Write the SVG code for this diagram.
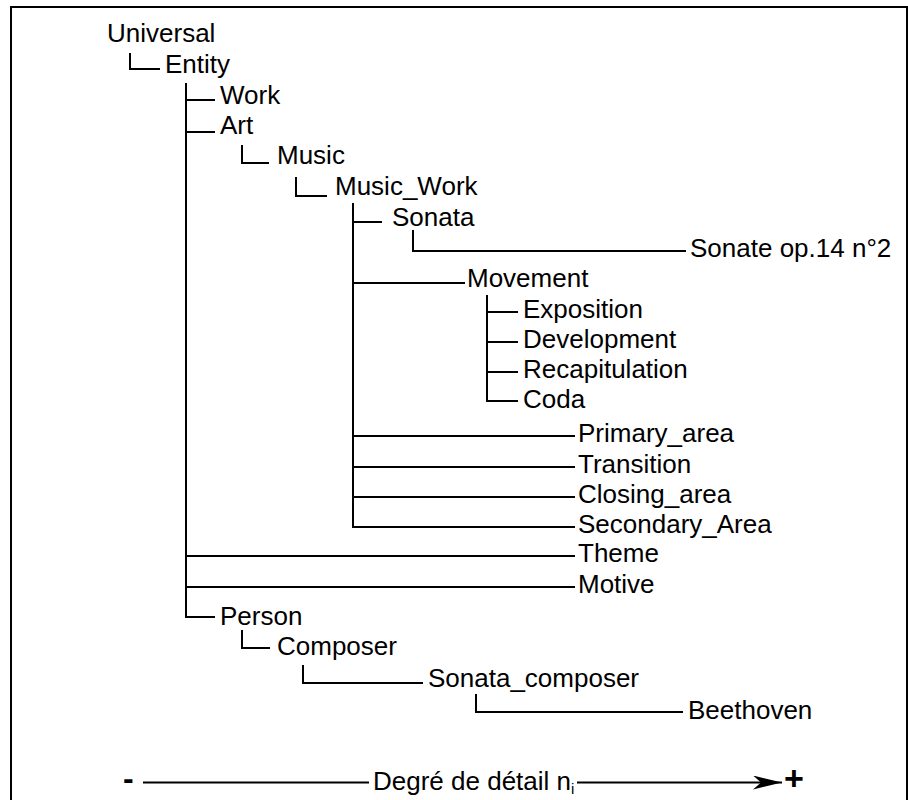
<svg xmlns="http://www.w3.org/2000/svg" width="908" height="800" viewBox="0 0 908 800">
  <style>
    .t { font-family: "Liberation Sans", Arial, sans-serif; font-size: 26px; fill: #000; }
    .c path { fill: none; stroke: #000; stroke-width: 2; }
  </style>
  <defs>
    <marker id="arr" markerWidth="30" markerHeight="14" refX="29" refY="7" orient="auto" markerUnits="userSpaceOnUse">
      <path d="M0,0 L29,7 L0,14 L8,7 Z" fill="#000"/>
    </marker>
  </defs>
  <rect x="0" y="0" width="908" height="800" fill="#fff"/>
  <path d="M11,820 V7 H907 V820" fill="none" stroke="#000" stroke-width="2"/>

  <g class="c" id="connectors">
    <path d="M130,53 V69 H160"/>
    <path d="M186,83 V617 H215"/>
    <path d="M186,100 H215"/>
    <path d="M186,132 H215"/>
    <path d="M242,145 V163 H269"/>
    <path d="M296,177 V196 H327"/>
    <path d="M353,203 V527 H575"/>
    <path d="M353,222 H382"/>
    <path d="M413,230 V251 H686"/>
    <path d="M353,283 H465"/>
    <path d="M487,295 V401 H518"/>
    <path d="M487,312 H518"/>
    <path d="M487,342 H518"/>
    <path d="M487,372 H518"/>
    <path d="M353,436 H575"/>
    <path d="M353,467 H575"/>
    <path d="M353,497 H575"/>
    <path d="M186,556 H575"/>
    <path d="M186,587 H575"/>
    <path d="M242,630 V648 H270"/>
    <path d="M303,665 V683 H423"/>
    <path d="M476,694 V712 H683"/>
  </g>

  <g id="n-universal"><text class="t" x="107" y="42">Universal</text></g>
  <g id="n-entity"><text class="t" x="165" y="73">Entity</text></g>
  <g id="n-work"><text class="t" x="220" y="104">Work</text></g>
  <g id="n-art"><text class="t" x="220" y="134">Art</text></g>
  <g id="n-music"><text class="t" x="277" y="164">Music</text></g>
  <g id="n-music-work"><text class="t" x="335" y="195">Music_Work</text></g>
  <g id="n-sonata"><text class="t" x="392" y="226">Sonata</text></g>
  <g id="n-sonate-op14"><text class="t" x="690" y="257">Sonate op.14 n°2</text></g>
  <g id="n-movement"><text class="t" x="467" y="287">Movement</text></g>
  <g id="n-exposition"><text class="t" x="523" y="318">Exposition</text></g>
  <g id="n-development"><text class="t" x="523" y="348">Development</text></g>
  <g id="n-recapitulation"><text class="t" x="523" y="378">Recapitulation</text></g>
  <g id="n-coda"><text class="t" x="523" y="408">Coda</text></g>
  <g id="n-primary-area"><text class="t" x="578" y="442">Primary_area</text></g>
  <g id="n-transition"><text class="t" x="578" y="473">Transition</text></g>
  <g id="n-closing-area"><text class="t" x="578" y="503">Closing_area</text></g>
  <g id="n-secondary-area"><text class="t" x="578" y="533">Secondary_Area</text></g>
  <g id="n-theme"><text class="t" x="578" y="562">Theme</text></g>
  <g id="n-motive"><text class="t" x="578" y="593">Motive</text></g>
  <g id="n-person"><text class="t" x="220" y="625">Person</text></g>
  <g id="n-composer"><text class="t" x="277" y="655">Composer</text></g>
  <g id="n-sonata-composer"><text class="t" x="428" y="687">Sonata_composer</text></g>
  <g id="n-beethoven"><text class="t" x="688" y="719">Beethoven</text></g>

  <g id="axis">
    <text class="t" x="123" y="789" style="font-size:32px;font-weight:bold">-</text>
    <path d="M143,782.5 H369" stroke="#000" stroke-width="2" fill="none"/>
    <text class="t" x="373" y="790">Degré de détail n<tspan style="font-size:15px" dy="4">i</tspan></text>
    <path d="M577,782.5 H782" stroke="#000" stroke-width="2" fill="none" marker-end="url(#arr)"/>
    <text class="t" x="784" y="790" style="font-size:34px;font-weight:bold">+</text>
  </g>
</svg>
